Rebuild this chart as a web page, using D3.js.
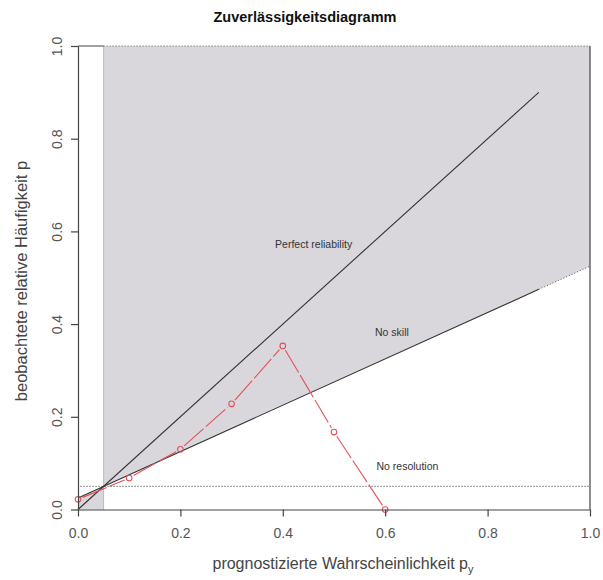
<!DOCTYPE html>
<html><head><meta charset="utf-8">
<script src="https://cdn.jsdelivr.net/npm/d3@7"></script>
<style>
html,body{margin:0;padding:0;background:#fff;}
svg{display:block;font-family:"Liberation Sans",Arial,sans-serif;}
</style></head>
<body><svg id="c" width="603" height="580"></svg>
<script>
// ---- data ----
const fcstProb = [0.0, 0.1, 0.2, 0.3, 0.4, 0.5, 0.6];
const obsFreq  = [0.022, 0.068, 0.130, 0.228, 0.353, 0.167, 0.0];
const climatology = 0.05;
const xTicks = [0, 0.2, 0.4, 0.6, 0.8, 1.0];
const yTicks = [0, 0.2, 0.4, 0.6, 0.8, 1.0];
const refLineEnd = 0.9;
const titleText = "Zuverlässigkeitsdiagramm";
const xLabel = "prognostizierte Wahrscheinlichkeit p";
const xLabelSub = "y";
const yLabel = "beobachtete relative Häufigkeit p";
const annotations = [
  {text: "Perfect reliability", x: 0.385, y: 0.573},
  {text: "No skill", x: 0.58, y: 0.383},
  {text: "No resolution", x: 0.583, y: 0.094}
];

const svg = d3.select("#c");
const x = d3.scaleLinear().domain([0, 1]).range([78, 590]);
const y = d3.scaleLinear().domain([0, 1]).range([509.5, 46]);
const c = climatology;
const noSkill = v => (v + c) / 2;

// skill region polygon
const poly = [[c,0],[c,1],[1,1],[1,noSkill(1)],[0,noSkill(0)],[0,0]];
svg.append("path")
  .attr("d", "M" + poly.map(p => x(p[0]) + "," + y(p[1])).join("L") + "Z")
  .attr("fill", "#d9d7db").attr("stroke", "none");
// dotted borders
const dotted = (pts, col, dash) => svg.append("path")
  .attr("d", d3.line().x(p => x(p[0])).y(p => y(p[1]))(pts))
  .attr("fill", "none").attr("stroke", col).attr("stroke-width", 1).attr("stroke-dasharray", dash);
dotted([[c,0],[c,1]], "#8a8a8a", "1,1");
dotted([[c,1],[1,1]], "#555", "1,2");
dotted([[refLineEnd, noSkill(refLineEnd)],[1, noSkill(1)]], "#555", "1,2");
// no resolution
dotted([[0.005,c],[1,c]], "#222", "1,2");

// reference lines
const solid = (pts) => svg.append("path")
  .attr("d", d3.line().x(p => x(p[0])).y(p => y(p[1]))(pts))
  .attr("fill", "none").attr("stroke", "#333").attr("stroke-width", 1.1);
solid([[0,0],[refLineEnd,refLineEnd]]);
solid([[0,noSkill(0)],[refLineEnd,noSkill(refLineEnd)]]);

// frame bits
svg.append("line").attr("x1", x(1)).attr("x2", x(1)).attr("y1", y(1)).attr("y2", y(0))
  .attr("stroke", "#444").attr("stroke-width", 1.2);
svg.append("line").attr("x1", x(0)).attr("x2", x(c)).attr("y1", y(1)).attr("y2", y(1))
  .attr("stroke", "#444").attr("stroke-width", 1);

// red reliability curve (type "b": gaps around points)
const red = "#e2505b";
const pts = fcstProb.map((v, i) => [x(v), y(obsFreq[i])]);
const gap = 5;
for (let i = 0; i < pts.length - 1; i++) {
  const [x0, y0] = pts[i], [x1, y1] = pts[i + 1];
  const L = Math.hypot(x1 - x0, y1 - y0);
  if (L < 2 * gap) continue;
  const ux = (x1 - x0) / L, uy = (y1 - y0) / L;
  svg.append("line")
    .attr("x1", x0 + ux * gap).attr("y1", y0 + uy * gap)
    .attr("x2", x1 - ux * gap).attr("y2", y1 - uy * gap)
    .attr("stroke", red).attr("stroke-width", 1.1).attr("stroke-dasharray", "26,3");
}
svg.append("g").selectAll("circle").data(fcstProb).join("circle")
  .attr("cx", d => x(d)).attr("cy", (d, i) => y(obsFreq[i])).attr("r", 2.8)
  .attr("fill", "none").attr("stroke", red).attr("stroke-width", 1.1);

// axes
const fmt = d3.format(".1f");
const gx = svg.append("g").attr("transform", `translate(0,${y(0)})`)
  .call(d3.axisBottom(x).tickValues(xTicks).tickFormat(fmt).tickSize(7).tickSizeOuter(0).tickPadding(12));
const gy = svg.append("g").attr("transform", `translate(${x(0)},0)`)
  .call(d3.axisLeft(y).tickValues(yTicks).tickFormat(fmt).tickSize(7).tickSizeOuter(0));
[gx, gy].forEach(g => {
  g.select(".domain").attr("stroke", "#444").attr("stroke-width", 1.2);
  g.selectAll(".tick line").attr("stroke", "#444").attr("stroke-width", 1.2);
  g.selectAll(".tick text").attr("fill", "#555").attr("font-size", 14)
    .attr("font-family", "Liberation Sans, Arial, sans-serif");
});
gy.selectAll(".tick text").attr("x", 0).attr("dy", null).attr("y", -16)
  .attr("text-anchor", "middle").attr("transform", "rotate(-90)");

// annotations
svg.append("g").selectAll("text").data(annotations).join("text")
  .attr("x", d => x(d.x)).attr("y", d => y(d.y)).attr("dy", "0.35em")
  .attr("font-size", 10.5).attr("fill", "#333").text(d => d.text);

// titles
svg.append("text").attr("x", 305).attr("y", 22).attr("text-anchor", "middle")
  .attr("font-size", 14.5).attr("font-weight", "bold").attr("fill", "#111").text(titleText);
const xl = svg.append("text").attr("x", 343).attr("y", 569).attr("text-anchor", "middle")
  .attr("font-size", 16).attr("fill", "#444");
xl.append("tspan").text(xLabel);
xl.append("tspan").attr("font-size", 11).attr("dy", 4).text(xLabelSub);
svg.append("text").attr("transform", `translate(27,281) rotate(-90)`)
  .attr("text-anchor", "middle").attr("font-size", 16.5).attr("fill", "#444").text(yLabel);
</script></body></html>
